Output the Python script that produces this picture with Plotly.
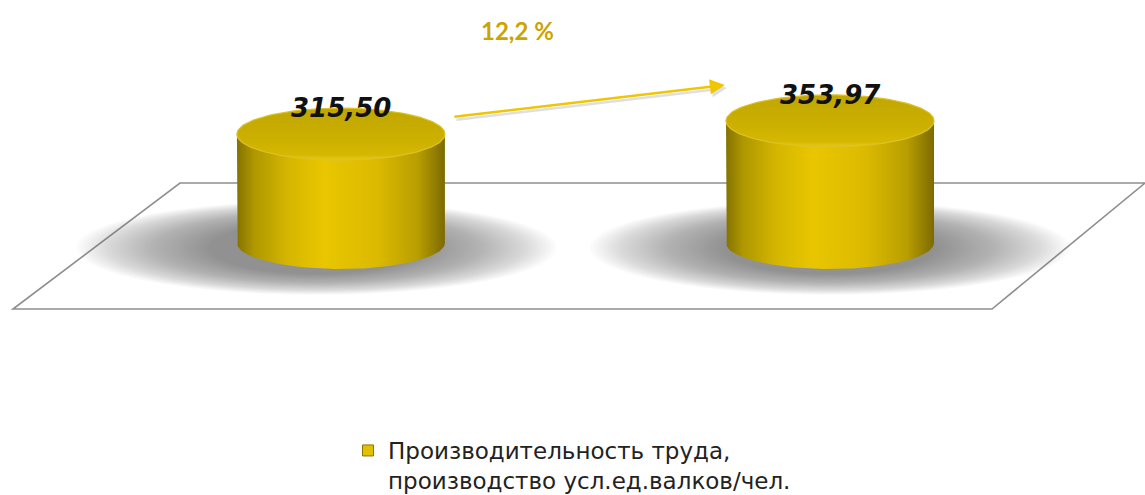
import numpy as np
import plotly.graph_objects as go

# ---- data ----
periods = ["Период 1", "Период 2"]
values = [315.50, 353.97]
series_name = "Производительность труда,<br>производство усл.ед.валков/чел."

W, H = 1145, 495

# ---- axis geometry (category index on x, value on y) ----
X_RANGE = [-0.697, 1.644]
Y_RANGE = [-730.4, 704.3]
px_per_x = W / (X_RANGE[1] - X_RANGE[0])
px_per_y = H / (Y_RANGE[1] - Y_RANGE[0])

RX = 104 / px_per_x          # cylinder half-width in x units
RY = 26 / px_per_y           # ellipse half-height in value units


def fmt(v, nd=2):
    return f"{v:.{nd}f}".replace(".", ",")


fig = go.Figure()

body_scale = [[0.0, "#847200"], [0.08, "#ae9700"], [0.25, "#d6b700"],
              [0.42, "#e9c600"], [0.68, "#dbb900"], [0.87, "#b89e00"],
              [1.0, "#7c6a00"]]
top_scale = [[0.0, "#e6ca1a"], [0.10, "#d4b800"], [0.45, "#cbaf00"],
             [1.0, "#c0a600"]]

t = np.linspace(0, np.pi, 80)
tt = np.linspace(0, 2 * np.pi, 160)

for i, v in enumerate(values):
    cx = i
    # side of the cylinder: left edge, front half of base ellipse, right edge
    bx = np.concatenate([[cx - RX], cx - RX * np.cos(t), [cx + RX]])
    by = np.concatenate([[v], -RY * np.sin(t), [v]])
    fig.add_trace(go.Scatter(
        x=bx, y=by, mode="lines", fill="toself",
        line=dict(width=0, color="rgba(0,0,0,0)"),
        fillgradient=dict(type="horizontal", colorscale=body_scale),
        hoverinfo="skip", showlegend=False))
    # top cap
    fig.add_trace(go.Scatter(
        x=cx + RX * np.cos(tt), y=v + RY * np.sin(tt), mode="lines",
        fill="toself", line=dict(width=1.2, color="#dcc228"),
        fillgradient=dict(type="vertical", colorscale=top_scale),
        hoverinfo="skip", showlegend=False))
    # value label
    fig.add_annotation(
        x=cx, y=v + RY, text=f"<b><i>{fmt(v)}</i></b>", showarrow=False,
        yshift=0, font=dict(family="DejaVu Sans", size=26, color="#111111"))

# legend entry
fig.add_trace(go.Scatter(
    x=[None], y=[None], mode="markers", name=series_name,
    marker=dict(symbol="square", size=11, color="#e2c000",
                line=dict(color="#8a7600", width=1))))

# growth arrow and percentage
growth = (values[1] / values[0] - 1) * 100
tail = (0.229, values[0] + 50)
tip = (1 - 0.215, values[1] + 104)
fig.add_annotation(x=tip[0], y=tip[1], ax=tail[0], ay=tail[1],
                   axref="x", ayref="y", text="", showarrow=True,
                   arrowhead=2, arrowsize=1.2, arrowwidth=2.5,
                   arrowcolor="rgba(0,0,0,0.12)", yshift=-3, xshift=2)
fig.add_annotation(x=tip[0], y=tip[1], ax=tail[0], ay=tail[1],
                   axref="x", ayref="y", text="", showarrow=True,
                   arrowhead=2, arrowsize=1.2, arrowwidth=2.5,
                   arrowcolor="#efc600")
fig.add_annotation(x=0.362, y=617, text=f"<b>{fmt(growth, 1)} %</b>",
                   showarrow=False,
                   font=dict(family="Lato", size=24, color="#cca400"))

# ---- floor and soft shadows ----
shapes = []
floor = [(180, 183), (1145, 183), (992, 309), (13, 309)]
path = "M " + " L ".join(f"{x / W:.5f},{1 - y / H:.5f}" for x, y in floor) + " Z"
shapes.append(dict(type="path", xref="paper", yref="paper", path=path,
                   line=dict(color="#8e8e8e", width=1.6),
                   fillcolor="white", layer="below"))

n = 40
for i, v in enumerate(values):
    cx = i - (0.05 if i == 0 else 0.0)
    cy = -14
    for k in range(n):
        f = k / (n - 1)
        rx = (240 * (1 - f) + 105 * f) / px_per_x
        ry = (47 * (1 - f) + 26 * f) / px_per_y
        shapes.append(dict(type="circle", xref="x", yref="y",
                           x0=cx - rx, x1=cx + rx, y0=cy - ry, y1=cy + ry,
                           line=dict(width=0), fillcolor="rgba(110,110,110,0.028)",
                           layer="below"))

fig.update_layout(
    width=W, height=H, margin=dict(l=0, r=0, t=0, b=0, autoexpand=False),
    paper_bgcolor="white", plot_bgcolor="rgba(0,0,0,0)",
    shapes=shapes,
    xaxis=dict(range=X_RANGE, visible=False, fixedrange=True),
    yaxis=dict(range=Y_RANGE, visible=False, fixedrange=True),
    showlegend=True,
    legend=dict(x=(388 - 40) / W, y=1 - 429 / H, xanchor="left", yanchor="top",
                bgcolor="rgba(0,0,0,0)", valign="top",
                font=dict(family="DejaVu Sans", size=23, color="#222222")),
)

fig.write_html("out.html")
